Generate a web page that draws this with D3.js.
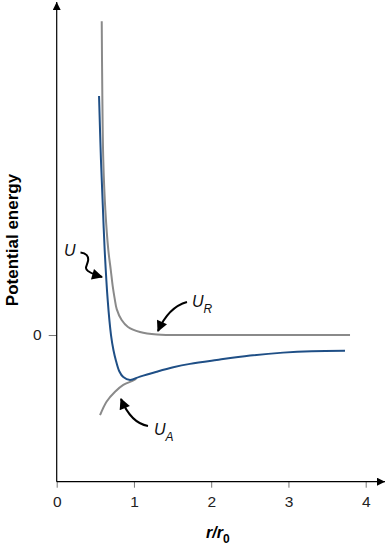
<!DOCTYPE html>
<html>
<head>
<meta charset="utf-8">
<script src="https://cdn.jsdelivr.net/npm/d3@7"></script>
<style>
  body { margin: 0; background: #fff; }
  svg { display: block; font-family: "Liberation Sans", Arial, sans-serif; }
  .tick text { font-size: 15.5px; fill: #222; }
</style>
</head>
<body>
<div id="chart"></div>
<script>
// values (r in units of r0, energy in arbitrary units)
const rRep = [0.583, 0.590, 0.603, 0.630, 0.668, 0.700, 0.725, 0.750, 0.777, 0.841, 0.923, 1.078, 1.298, 1.855, 2.800, 3.797];
const uRep = [6.42, 5.01, 3.58, 2.55, 1.74, 1.33, 1.00, 0.75, 0.53, 0.307, 0.164, 0.061, 0.01, 0.0, 0.0, 0.0];

const rTot = [0.548, 0.573, 0.598, 0.621, 0.660, 0.703, 0.735, 0.768, 0.810, 0.862, 0.949, 1.078, 1.294, 1.509, 1.726, 2.071, 2.504, 2.930, 3.300, 3.732];
const uTot = [4.89, 3.58, 2.60, 1.74, 0.72, 0.0, -0.31, -0.53, -0.74, -0.86, -0.92, -0.85, -0.75, -0.66, -0.59, -0.51, -0.42, -0.36, -0.33, -0.32];

const rAtt = [0.561, 0.647, 0.755, 0.862, 0.992, 1.030];
const uAtt = [-1.64, -1.36, -1.16, -1.02, -0.93, -0.89];

const xTicks = [0, 1, 2, 3, 4];
const yTicks = [0];

const svg = d3.select("#chart").append("svg")
    .attr("width", 388)
    .attr("height", 550);

const x = d3.scaleLinear().domain([0, 4]).range([56.7, 365.7]);
const y = d3.scaleLinear().domain([-3, 6.75]).range([481.7, 5]);

// arrow markers
const defs = svg.append("defs");
defs.append("marker")
    .attr("id", "axisHead")
    .attr("viewBox", "0 0 10 10")
    .attr("refX", 10).attr("refY", 5)
    .attr("markerWidth", 12).attr("markerHeight", 8)
    .attr("markerUnits", "userSpaceOnUse")
    .attr("orient", "auto")
  .append("path").attr("d", "M0,0L10,5L0,10Z").attr("fill", "#000");
defs.append("marker")
    .attr("id", "noteHead")
    .attr("viewBox", "0 0 10 10")
    .attr("refX", 9).attr("refY", 5)
    .attr("markerWidth", 13).attr("markerHeight", 11)
    .attr("markerUnits", "userSpaceOnUse")
    .attr("orient", "auto")
  .append("path").attr("d", "M0,0L10,5L0,10Z").attr("fill", "#000");

// axes
const xAxis = svg.append("g")
    .attr("transform", `translate(0,${y(-3)})`)
    .call(d3.axisBottom(x).tickValues(xTicks).tickFormat(d3.format("d")).tickSize(6).tickPadding(8));
xAxis.select(".domain").remove();
xAxis.selectAll(".tick line").attr("stroke", "#777");

const yAxis = svg.append("g")
    .attr("transform", `translate(${x(0)},0)`)
    .call(d3.axisLeft(y).tickValues(yTicks).tickFormat(d3.format("d")).tickSize(8).tickPadding(7));
yAxis.select(".domain").remove();
yAxis.selectAll(".tick line").attr("stroke", "#777");

svg.append("line")
    .attr("x1", x(0)).attr("y1", y(-3))
    .attr("x2", 385).attr("y2", y(-3))
    .attr("stroke", "#000").attr("stroke-width", 1.2)
    .attr("marker-end", "url(#axisHead)");
svg.append("line")
    .attr("x1", x(0)).attr("y1", y(-3))
    .attr("x2", x(0)).attr("y2", 2)
    .attr("stroke", "#000").attr("stroke-width", 1.2)
    .attr("marker-end", "url(#axisHead)");

// axis titles
svg.append("text")
    .attr("transform", `translate(18,240) rotate(-90)`)
    .attr("text-anchor", "middle")
    .attr("font-size", 17).attr("font-weight", "bold")
    .text("Potential energy");

const xt = svg.append("text")
    .attr("x", 206).attr("y", 538)
    .attr("font-size", 16).attr("font-weight", "bold").attr("font-style", "italic");
xt.append("tspan").text("r/r");
xt.append("tspan").attr("dy", 5).attr("font-size", 12).attr("font-style", "normal").text("0");

// curves
const line = d3.line()
    .x(d => x(d[0]))
    .y(d => y(d[1]))
    .curve(d3.curveCatmullRom.alpha(0.5));

svg.append("path")
    .datum(d3.zip(rRep, uRep))
    .attr("d", line)
    .attr("fill", "none").attr("stroke", "#8a8a8a").attr("stroke-width", 2);
svg.append("path")
    .datum(d3.zip(rAtt, uAtt))
    .attr("d", line)
    .attr("fill", "none").attr("stroke", "#8a8a8a").attr("stroke-width", 2);
svg.append("path")
    .datum(d3.zip(rTot, uTot))
    .attr("d", line)
    .attr("fill", "none").attr("stroke", "#1f4f86").attr("stroke-width", 2);

// annotations
function label(px, py, main, sub) {
  const t = svg.append("text")
      .attr("x", px).attr("y", py)
      .attr("font-size", 16).attr("font-style", "italic").attr("fill", "#111");
  t.append("tspan").text(main);
  if (sub) t.append("tspan").attr("dy", 6).attr("font-size", 12).text(sub);
}
label(64, 256, "U");
label(192, 307, "U", "R");
label(154, 435, "U", "A");

const notes = [
  "M80.5,252.5 C86,253 89,256 88,261 C87,266 84,268 88,271 C91,273 95,275 102,277",
  "M187,302 C176,305 166,313 158,331",
  "M148,426 C137,424 128,416 121,399"
];
svg.selectAll(".note")
    .data(notes)
    .enter().append("path")
    .attr("class", "note")
    .attr("d", d => d)
    .attr("fill", "none").attr("stroke", "#000").attr("stroke-width", 2)
    .attr("marker-end", "url(#noteHead)");
</script>
</body>
</html>
